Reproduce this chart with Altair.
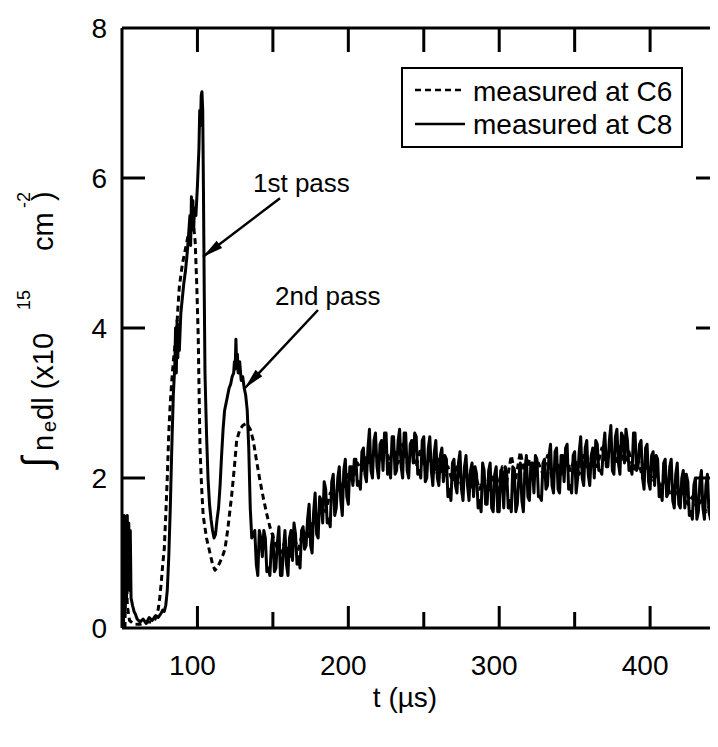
import altair as alt
import pandas as pd

FONT = "Liberation Sans"

# ---- data ----
SERIES = ["measured at C6", "measured at C8"]
X_TITLE = "t (µs)"
# y title: ∫ n_e dl (x10^15 cm^-2), written as pieces (main / sub / super)
Y_TITLE_PARTS = ["∫", "n", "e", "dl (x10", "15", "cm", "-2", ")"]

# C8 (solid): early part and the two peaks
C8_T1 = [51, 51.5, 52, 52.5, 53, 53.5, 54, 54.5, 55, 55.5,
         56, 57, 58, 59, 60, 62, 64, 66, 68, 70,
         72, 74, 76, 77, 78, 79, 80, 81, 82, 83,
         84, 85, 85.5, 86, 86.5, 87, 87.5, 88, 89, 90,
         91, 92, 93, 94, 95, 95.5, 96, 96.5, 97, 97.5,
         98, 99, 100, 101, 101.5, 102, 102.5, 103, 103.5, 104,
         104.5, 105, 106, 107, 108, 109, 110, 111, 112, 113,
         114, 115, 116, 117, 118, 119, 120, 121, 122, 123,
         124, 124.5, 125, 125.5, 126, 126.5, 127, 128, 129, 130,
         131, 132, 133, 134, 135, 136]
C8_Y1 = [0.0, 1.5, 0.2, 1.45, 0.4, 1.5, 0.6, 1.4, 0.5, 1.3,
         0.4, 0.3, 0.22, 0.18, 0.12, 0.08, 0.12, 0.06, 0.14, 0.1,
         0.16, 0.14, 0.2, 0.24, 0.22, 0.3, 0.5, 0.95, 1.6, 2.4,
         3.1, 3.5, 4.0, 3.4, 4.1, 3.6, 4.05, 3.7, 4.2, 4.4,
         4.6, 4.75, 4.95, 5.2, 5.5, 5.1, 5.75, 5.35, 5.7, 5.3,
         5.6, 5.5, 5.9, 6.4, 6.9, 6.7, 7.1, 7.15, 6.9, 5.8,
         4.5, 3.4, 2.6, 2.0, 1.65, 1.45, 1.3, 1.2, 1.25, 1.45,
         1.6, 1.9, 2.3, 2.65, 2.9, 3.0, 3.1, 3.2, 3.25, 3.35,
         3.4, 3.55, 3.45, 3.85, 3.5, 3.65, 3.4, 3.55, 3.3, 3.35,
         3.2, 3.1, 2.9, 2.4, 1.6, 1.2]

# C8 (solid): noisy tail, odd microseconds
C8_T2 = [137, 139, 141, 143, 145, 147, 149, 151, 153, 155,
         157, 159, 161, 163, 165, 167, 169, 171, 173, 175,
         177, 179, 181, 183, 185, 187, 189, 191, 193, 195,
         197, 199, 201, 203, 205, 207, 209, 211, 213, 215,
         217, 219, 221, 223, 225, 227, 229, 231, 233, 235,
         237, 239, 241, 243, 245, 247, 249, 251, 253, 255,
         257, 259, 261, 263, 265, 267, 269, 271, 273, 275,
         277, 279, 281, 283, 285, 287, 289, 291, 293, 295,
         297, 299, 301, 303, 305, 307, 309, 311, 313, 315,
         317, 319, 321, 323, 325, 327, 329, 331, 333, 335,
         337, 339, 341, 343, 345, 347, 349, 351, 353, 355,
         357, 359, 361, 363, 365, 367, 369, 371, 373, 375,
         377, 379, 381, 383, 385, 387, 389, 391, 393, 395,
         397, 399, 401, 403, 405, 407, 409, 411, 413, 415,
         417, 419, 421, 423, 425, 427, 429, 431, 433, 435,
         437, 439, 441, 443, 445]
C8_Y2 = [1.25, 0.85, 1.3, 0.95, 1.2, 0.8, 1.1, 0.75, 1.15, 0.7,
         1.05, 0.85, 1.2, 0.9, 1.25, 0.95, 1.3, 1.05, 1.45, 1.1,
         1.55, 1.25, 1.75, 1.4, 1.85, 1.45, 1.95, 1.5, 2.0, 1.7,
         2.1, 1.75, 2.15, 1.9, 2.25, 1.95, 2.35, 2.05, 2.4, 2.1,
         2.5, 2.15, 2.45, 2.1, 2.6, 2.2, 2.55, 2.05, 2.5, 2.15,
         2.6, 2.1, 2.45, 2.2, 2.55, 2.1, 2.5, 1.95, 2.4, 2.1,
         2.35, 2.0, 2.3, 1.95, 2.25, 1.85, 2.2, 1.9, 2.2, 1.85,
         2.15, 1.9, 2.1, 1.75, 2.05, 1.7, 2.2, 1.65, 2.1, 1.6,
         2.05, 1.55, 2.1, 1.6, 2.05, 1.7, 2.15, 1.55, 2.0, 1.7,
         2.1, 1.75, 2.2, 1.8, 2.25, 1.75, 2.2, 1.85, 2.3, 1.9,
         2.35, 1.85, 2.3, 1.95, 2.45, 1.9, 2.3, 1.8, 2.35, 2.0,
         2.4, 2.05, 2.3, 2.0, 2.45, 2.1, 2.4, 2.15, 2.5, 2.1,
         2.55, 2.2, 2.6, 2.2, 2.5, 2.15, 2.6, 2.1, 2.45, 2.0,
         2.4, 1.95, 2.3, 1.9, 2.25, 1.85, 2.2, 1.75, 2.15, 1.7,
         2.05, 1.65, 2.0, 1.6, 1.95, 1.55, 1.9, 1.45, 1.95, 1.6,
         1.9, 1.55, 1.85, 1.6, 1.8]

# C8 (solid): noisy tail, even microseconds
C8_T3 = [138, 140, 142, 144, 146, 148, 150, 152, 154, 156,
         158, 160, 162, 164, 166, 168, 170, 172, 174, 176,
         178, 180, 182, 184, 186, 188, 190, 192, 194, 196,
         198, 200, 202, 204, 206, 208, 210, 212, 214, 216,
         218, 220, 222, 224, 226, 228, 230, 232, 234, 236,
         238, 240, 242, 244, 246, 248, 250, 252, 254, 256,
         258, 260, 262, 264, 266, 268, 270, 272, 274, 276,
         278, 280, 282, 284, 286, 288, 290, 292, 294, 296,
         298, 300, 302, 304, 306, 308, 310, 312, 314, 316,
         318, 320, 322, 324, 326, 328, 330, 332, 334, 336,
         338, 340, 342, 344, 346, 348, 350, 352, 354, 356,
         358, 360, 362, 364, 366, 368, 370, 372, 374, 376,
         378, 380, 382, 384, 386, 388, 390, 392, 394, 396,
         398, 400, 402, 404, 406, 408, 410, 412, 414, 416,
         418, 420, 422, 424, 426, 428, 430, 432, 434, 436,
         438, 440, 442, 444]
C8_Y3 = [1.3, 0.7, 1.2, 1.3, 0.75, 0.7, 1.25, 0.8, 1.35, 0.7,
         1.3, 0.7, 1.3, 1.4, 0.85, 0.8, 1.35, 1.1, 1.65, 1.0,
         1.8, 1.2, 1.7, 1.95, 1.4, 1.35, 2.05, 1.6, 2.15, 1.5,
         2.25, 1.65, 2.15, 2.25, 1.9, 1.85, 2.4, 1.95, 2.65, 2.0,
         2.6, 2.0, 2.5, 2.6, 2.05, 2.0, 2.55, 2.1, 2.65, 2.0,
         2.6, 2.0, 2.5, 2.6, 2.05, 2.0, 2.55, 2.0, 2.55, 1.9,
         2.5, 1.9, 2.4, 2.3, 1.75, 1.7, 2.25, 1.8, 2.35, 1.7,
         2.3, 1.7, 2.2, 2.15, 1.6, 1.55, 2.1, 1.65, 2.2, 1.55,
         2.15, 1.55, 2.05, 2.15, 1.6, 1.55, 2.1, 1.65, 2.2, 1.55,
         2.3, 1.7, 2.2, 2.3, 1.75, 1.7, 2.25, 1.9, 2.45, 1.8,
         2.4, 1.8, 2.3, 2.4, 1.85, 1.8, 2.35, 2.0, 2.55, 1.9,
         2.5, 1.9, 2.4, 2.5, 2.1, 2.05, 2.6, 2.15, 2.7, 2.05,
         2.65, 2.05, 2.55, 2.65, 2.1, 2.05, 2.6, 2.15, 2.5, 1.85,
         2.45, 1.85, 2.35, 2.3, 1.75, 1.7, 2.25, 1.8, 2.25, 1.6,
         2.2, 1.6, 2.1, 2.05, 1.5, 1.45, 2.0, 1.55, 2.1, 1.45,
         2.05, 1.45, 1.95, 2.05]

# C6 (dashed): early part and the two peaks
C6_T1 = [52, 52.5, 53.5, 55, 58, 62, 66, 70, 72, 74,
         75, 76, 77, 78, 79, 80, 81, 82, 83, 84,
         85, 86, 87, 88, 90, 92, 94, 96, 97.5, 98.5,
         99.5, 100.5, 101.2, 101.7, 102.7, 103.8, 106, 108.3, 110, 111.6,
         113, 115, 117, 118.2, 120, 122.6, 124.5, 126, 128, 130,
         132.6, 135, 137, 139, 141.4, 143.5, 145.8, 148, 150.2]
C6_Y1 = [0.0, 1.4, 0.3, 0.1, 0.05, 0.05, 0.08, 0.08, 0.12, 0.25,
         0.4, 0.6, 0.85, 1.05, 1.5, 2.0, 2.6, 3.0, 3.3, 3.55,
         3.75, 3.9, 4.25, 4.55, 4.85, 5.05, 5.25, 5.35, 5.35, 5.15,
         4.6, 3.9, 3.0, 2.4, 1.9, 1.5, 1.2, 1.0, 0.85, 0.77,
         0.8, 0.88, 0.98, 1.05, 1.3, 1.75, 2.15, 2.5, 2.64, 2.7,
         2.73, 2.65, 2.5, 2.25, 1.97, 1.75, 1.53, 1.35, 1.21]

# C6 (dashed): noisy tail
C6_T2 = [152, 155, 158, 161, 164, 167, 170, 173, 176, 179,
         182, 185, 188, 191, 194, 197, 200, 203, 206, 209,
         212, 215, 218, 221, 224, 227, 230, 233, 236, 239,
         242, 245, 248, 251, 254, 257, 260, 263, 266, 269,
         272, 275, 278, 281, 284, 287, 290, 293, 296, 299,
         302, 305, 308, 311, 314, 317, 320, 323, 326, 329,
         332, 335, 338, 341, 344, 347, 350, 353, 356, 359,
         362, 365, 368, 371, 374, 377, 380, 383, 386, 389,
         392, 395, 398, 401, 404, 407, 410, 413, 416, 419,
         422, 425, 428, 431, 434, 437, 440, 443]
C6_Y2 = [1.1, 1.0, 1.15, 0.95, 1.2, 1.05, 1.3, 1.2, 1.45, 1.4,
         1.65, 1.55, 1.8, 1.7, 1.95, 1.85, 2.05, 1.95, 2.2, 2.1,
         2.3, 2.15, 2.35, 2.25, 2.45, 2.25, 2.4, 2.2, 2.45, 2.2,
         2.35, 2.15, 2.4, 2.1, 2.3, 2.05, 2.25, 2.0, 2.15, 1.95,
         2.15, 1.9, 2.1, 1.85, 2.05, 1.85, 2.0, 1.8, 2.05, 1.85,
         2.15, 1.95, 2.3, 2.0, 2.35, 2.05, 2.25, 2.0, 2.2, 2.05,
         2.3, 2.0, 2.25, 2.05, 2.3, 2.1, 2.25, 2.05, 2.3, 2.1,
         2.35, 2.15, 2.4, 2.2, 2.4, 2.2, 2.45, 2.2, 2.35, 2.1,
         2.25, 2.0, 2.2, 1.95, 2.1, 1.85, 2.0, 1.8, 1.9, 1.75,
         1.8, 1.65, 1.75, 1.6, 1.7, 1.55, 1.65, 1.55]

# axis ticks
X_LABELS = [100, 200, 300, 400]
X_MINOR = [150, 250, 350]
X_TOP = [100, 150, 200, 250, 300, 350, 400]
Y_LABELS = [0, 2, 4, 6, 8]
Y_TICKS = [2, 4, 6]

# annotations
ANN_TEXT = ["1st pass", "2nd pass"]
ANN_TX = [136.8, 151.4]
ANN_TY = [5.81, 4.31]
ANN_T0 = [154.7, 179.9]
ANN_Y0 = [5.73, 4.24]
ANN_T1 = [103.7, 131.5]
ANN_Y1 = [4.95, 3.2]
ANN_ANGLE = [233, 223]

# ---- layout (pixels, relative to the plot area) ----
W, H = 596, 600
# y-title pieces: (baseline x, start y, font size)
Y_TITLE_LAYOUT = [(-72, 440, 40), (-69, 423, 29), (-66, 404, 20),
                  (-69, 392, 29), (-92, 282, 18), (-69, 223, 29),
                  (-92, 180, 18), (-69, 173, 29)]

# ---- tables ----
df = pd.concat([
    pd.DataFrame({"t": C6_T1 + C6_T2, "y": C6_Y1 + C6_Y2, "series": SERIES[0]}),
    pd.DataFrame({"t": C8_T1 + C8_T2 + C8_T3, "y": C8_Y1 + C8_Y2 + C8_Y3,
                  "series": SERIES[1]}),
])
ann = pd.DataFrame({"label": ANN_TEXT, "tx": ANN_TX, "ty": ANN_TY,
                    "t0": ANN_T0, "y0": ANN_Y0, "t1": ANN_T1, "y1": ANN_Y1,
                    "angle": ANN_ANGLE})
one = pd.DataFrame({"a": [0]})

xs = alt.Scale(domain=[50, 445], nice=False, zero=False)
ys = alt.Scale(domain=[0, 8], nice=False, zero=False)
DASHES = [[6, 4], [1, 0]]

lines = alt.Chart(df).mark_line(color="black", strokeWidth=3, clip=True,
                                strokeJoin="round").encode(
    x=alt.X("t:Q", scale=xs, axis=None),
    y=alt.Y("y:Q", scale=ys, axis=None),
    strokeDash=alt.StrokeDash("series:N",
                              scale=alt.Scale(domain=SERIES, range=DASHES),
                              legend=None),
    detail="series:N",
)

rule = dict(color="black", strokeWidth=3)
# frame (left / bottom / top) and inward ticks
left_line = alt.Chart(one).mark_rule(**rule).encode(
    x=alt.value(0), y=alt.value(0), y2=alt.value(H))
bottom_line = alt.Chart(one).mark_rule(**rule).encode(
    x=alt.value(0), x2=alt.value(W + 10), y=alt.value(H))
top_line = alt.Chart(one).mark_rule(**rule).encode(
    x=alt.value(0), x2=alt.value(W + 10), y=alt.value(0))
xt_major = alt.Chart(pd.DataFrame({"t": X_LABELS})).mark_rule(**rule).encode(
    x=alt.X("t:Q", scale=xs, axis=None), y=alt.value(H), y2=alt.value(H - 22))
xt_minor = alt.Chart(pd.DataFrame({"t": X_MINOR})).mark_rule(**rule).encode(
    x=alt.X("t:Q", scale=xs, axis=None), y=alt.value(H), y2=alt.value(H - 16))
xt_top = alt.Chart(pd.DataFrame({"t": X_TOP})).mark_rule(**rule).encode(
    x=alt.X("t:Q", scale=xs, axis=None), y=alt.value(0), y2=alt.value(24))
yt_left = alt.Chart(pd.DataFrame({"v": Y_TICKS})).mark_rule(**rule).encode(
    y=alt.Y("v:Q", scale=ys, axis=None), x=alt.value(0), x2=alt.value(23))
yt_right = alt.Chart(pd.DataFrame({"v": Y_TICKS})).mark_rule(**rule).encode(
    y=alt.Y("v:Q", scale=ys, axis=None), x=alt.value(W - 22), x2=alt.value(W))

# tick labels and axis titles
txt = dict(font=FONT, color="black")
x_lab = alt.Chart(pd.DataFrame({"t": X_LABELS})).mark_text(
    align="center", baseline="alphabetic", fontSize=28, dx=-5, **txt).encode(
    x=alt.X("t:Q", scale=xs, axis=None), y=alt.value(H + 47),
    text=alt.Text("t:Q"))
y_lab = alt.Chart(pd.DataFrame({"v": Y_LABELS})).mark_text(
    align="right", baseline="alphabetic", fontSize=28, dy=10, **txt).encode(
    y=alt.Y("v:Q", scale=ys, axis=None), x=alt.value(-15),
    text=alt.Text("v:Q"))
x_title = alt.Chart(one).mark_text(
    align="center", baseline="alphabetic", fontSize=28, **txt).encode(
    x=alt.value(283), y=alt.value(H + 79), text=alt.value(X_TITLE))
y_title = [
    alt.Chart(one).mark_text(align="left", baseline="alphabetic", angle=270,
                             fontSize=fs, **txt).encode(
        x=alt.value(px), y=alt.value(py), text=alt.value(part))
    for part, (px, py, fs) in zip(Y_TITLE_PARTS, Y_TITLE_LAYOUT)
]

# legend (box + samples + labels)
leg_box = alt.Chart(one).mark_rect(fill="white", stroke="black",
                                   strokeWidth=2).encode(
    x=alt.value(280), x2=alt.value(560), y=alt.value(40), y2=alt.value(119))
leg_l1 = alt.Chart(one).mark_rule(color="black", strokeWidth=2.5,
                                  strokeDash=DASHES[0]).encode(
    x=alt.value(293), x2=alt.value(343), y=alt.value(62))
leg_l2 = alt.Chart(one).mark_rule(color="black", strokeWidth=2.5).encode(
    x=alt.value(293), x2=alt.value(343), y=alt.value(96))
leg_t1 = alt.Chart(one).mark_text(align="left", baseline="alphabetic",
                                  fontSize=28, **txt).encode(
    x=alt.value(351), y=alt.value(73), text=alt.value(SERIES[0]))
leg_t2 = alt.Chart(one).mark_text(align="left", baseline="alphabetic",
                                  fontSize=28, **txt).encode(
    x=alt.value(351), y=alt.value(106), text=alt.value(SERIES[1]))

# annotations
ann_line = alt.Chart(ann).mark_rule(color="black", strokeWidth=2.5).encode(
    x=alt.X("t0:Q", scale=xs, axis=None), x2="t1:Q",
    y=alt.Y("y0:Q", scale=ys, axis=None), y2="y1:Q")
ann_head = alt.Chart(ann).mark_point(
    shape="M0,0 L0.45,2 L-0.45,2 Z", filled=True, size=420, color="black",
    opacity=1).encode(
    x=alt.X("t1:Q", scale=xs, axis=None),
    y=alt.Y("y1:Q", scale=ys, axis=None),
    angle=alt.Angle("angle:Q", scale=None))
ann_text = alt.Chart(ann).mark_text(
    align="left", baseline="alphabetic", fontSize=26, **txt).encode(
    x=alt.X("tx:Q", scale=xs, axis=None),
    y=alt.Y("ty:Q", scale=ys, axis=None),
    text="label:N")

chart = alt.layer(
    lines, left_line, bottom_line, top_line,
    xt_major, xt_minor, xt_top, yt_left, yt_right,
    x_lab, y_lab, x_title, *y_title,
    ann_line, ann_head, ann_text,
    leg_box, leg_l1, leg_l2, leg_t1, leg_t2,
).properties(
    width=W, height=H,
    padding={"left": 114, "top": 20, "right": -8, "bottom": 110},
    autosize=alt.AutoSizeParams(type="none"),
    background="white",
).configure_view(
    stroke=None
)

chart.save("out.html", embed_options={"renderer": "svg", "actions": False})
